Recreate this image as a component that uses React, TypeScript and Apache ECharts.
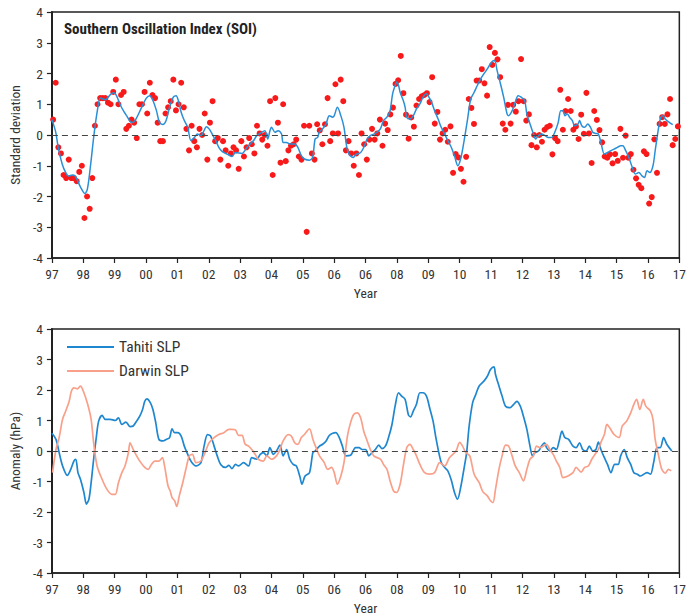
import React, { useEffect, useRef } from "react";
import * as echarts from "echarts";

const FONT = '"Liberation Sans Narrow", "Arial Narrow", "Roboto Condensed", "DejaVu Sans Condensed", "Liberation Sans", sans-serif';

const yearLabels = ["97", "98", "99", "00", "01", "02", "03", "04", "05", "06", "06", "08", "09", "10", "11", "12", "13", "14", "15", "16", "17"];
const startYear = 1997;

// Monthly SOI (standard deviations), Jan 1997 .. Dec 2016
const soiMonthly = [
  0.5, 1.7, -0.4, -0.6, -1.3, -1.4, -0.8, -1.4, -1.4, -1.5, -1.2, -1.0,
  -2.7, -2.0, -2.4, -1.4, 0.3, 1.0, 1.2, 1.2, 1.2, 1.05, 1.0, 1.4,
  1.8, 1.0, 1.3, 1.4, 0.2, 0.3, 0.5, 0.4, -0.1, 1.0, 1.0, 1.4,
  0.7, 1.7, 1.3, 1.2, 0.4, -0.2, -0.2, 0.7, 0.9, 1.1, 1.8, 0.8,
  1.0, 1.7, 0.9, 0.2, -0.5, 0.3, -0.2, -0.4, 0.2, 0.0, 0.7, -0.8,
  0.4, 1.1, -0.2, -0.1, -0.8, -0.2, -0.5, -1.0, -0.6, -0.4, -0.5, -1.1,
  -0.2, -0.7, -0.4, -0.1, -0.3, -0.6, 0.3, 0.05, -0.15, 0.0, -0.35, 1.1,
  -1.3, 1.2, 0.4, -0.9, 1.0, -0.85, -0.5, -0.35, -0.3, -0.15, -0.7, -0.8,
  0.3, -3.15, 0.3, -0.6, -0.8, 0.35, 0.15, -0.3, 0.35, 1.2, -0.2, 0.05,
  1.65, 0.05, 1.8, 1.1, -0.5, -0.2, -0.6, -1.0, -0.6, -1.3, 0.05, -0.3,
  -0.8, -0.15, 0.2, -0.15, 0.05, 0.5, -0.35, 0.37, 0.16, 0.67, 0.89, 1.66,
  1.78, 2.57, 1.36, 0.66, -0.12, 0.57, 0.27, 0.96, 1.17, 1.26, 1.3, 1.36,
  1.07, 1.88, 0.37, 0.75, -0.15, 0.05, 0.17, -0.22, 0.28, -1.23, -0.62, -0.73,
  -1.1, -1.52, -0.71, 1.17, 0.88, 0.36, 1.77, 1.77, 2.14, 1.68, 1.28, 2.86,
  2.28, 2.67, 2.46, 1.88, 0.37, 0.17, 0.98, 0.37, 0.98, 0.76, 1.1, 2.47,
  1.1, 0.47, 0.67, -0.33, 0.0, -0.4, 0.0, -0.22, 0.17, 0.26, 0.3, -0.63,
  -0.1, -0.2, 1.47, 0.17, 0.78, 1.17, 0.78, 0.17, 0.28, -0.13, 0.66, 0.04,
  1.37, 0.05, -0.91, 0.78, 0.49, 0.16, -0.24, -0.7, -0.74, -0.63, -0.92, -0.62,
  -0.84, 0.2, -0.74, -0.02, -0.74, -0.62, -1.13, -1.41, -1.62, -1.73, -0.53, -0.62,
  -2.23, -2.02, -0.14, -1.23, 0.36, 0.58, 0.36, 0.67, 1.17, -0.33, -0.13, 0.28,
];

// Smoothed SOI [year, value]
const soiSmoothed = [
  [1997.0, 0.5], [1997.12, 0.1], [1997.2, -0.4], [1997.33, -0.95], [1997.44, -1.22], [1997.54, -1.33], [1997.65, -1.3], [1997.74, -1.33], [1997.82, -1.49], [1997.92, -1.71],
  [1998.05, -1.9], [1998.13, -1.76], [1998.23, -1.0], [1998.34, 0.0], [1998.45, 0.8], [1998.55, 1.2], [1998.7, 1.15], [1998.87, 1.32], [1998.97, 1.37],
  [1999.05, 1.3], [1999.17, 1.0], [1999.3, 0.75], [1999.38, 0.63], [1999.54, 0.41], [1999.65, 0.47], [1999.86, 0.9],
  [2000.01, 1.2], [2000.12, 1.28], [2000.22, 1.12], [2000.33, 0.8], [2000.43, 0.41], [2000.54, 0.34], [2000.64, 0.47], [2000.75, 0.9], [2000.87, 1.23], [2000.96, 1.28],
  [2001.03, 1.12], [2001.12, 0.74], [2001.22, 0.47], [2001.33, 0.25], [2001.43, -0.18], [2001.54, -0.08], [2001.64, 0.03], [2001.75, -0.02], [2001.85, 0.14], [2001.92, 0.27],
  [2002.01, 0.2], [2002.11, 0.03], [2002.22, -0.18], [2002.32, -0.4], [2002.43, -0.54], [2002.64, -0.65], [2002.74, -0.7], [2002.85, -0.57],
  [2003.06, -0.6], [2003.22, -0.4], [2003.32, -0.29], [2003.43, -0.18], [2003.53, -0.02], [2003.69, 0.09], [2003.79, 0.14], [2003.88, -0.13], [2003.95, 0.14],
  [2004.0, 0.25], [2004.11, 0.09], [2004.21, 0.14], [2004.32, 0.03], [2004.37, -0.24], [2004.48, -0.24], [2004.58, -0.29], [2004.74, -0.29], [2004.84, -0.4], [2004.95, -0.67],
  [2005.05, -0.78], [2005.21, -0.82], [2005.31, -0.73], [2005.39, -0.13], [2005.47, -0.08], [2005.52, 0.09], [2005.63, 0.2], [2005.74, 0.36], [2005.84, 0.63], [2005.95, 0.58],
  [2006.0, 0.63], [2006.1, 0.9], [2006.21, 0.63], [2006.31, 0.25], [2006.4, -0.4], [2006.47, -0.62], [2006.61, -0.73], [2006.68, -0.64], [2006.84, -0.57], [2006.94, -0.4],
  [2007.05, -0.13], [2007.15, -0.02], [2007.26, 0.03], [2007.36, 0.09], [2007.47, 0.2], [2007.57, 0.47], [2007.68, 0.58], [2007.78, 0.79], [2007.86, 1.34], [2007.94, 1.61], [2007.99, 1.72],
  [2008.05, 1.61], [2008.1, 1.39], [2008.2, 1.12], [2008.26, 0.9], [2008.31, 0.58], [2008.41, 0.52], [2008.52, 0.63], [2008.62, 0.85], [2008.73, 1.01], [2008.83, 1.23], [2008.94, 1.34], [2008.99, 1.28],
  [2009.1, 1.07], [2009.2, 0.79], [2009.31, 0.52], [2009.41, 0.25], [2009.52, 0.03], [2009.62, -0.18], [2009.73, -0.4], [2009.83, -0.67], [2009.94, -1.0],
  [2010.04, -0.73], [2010.14, -0.18], [2010.25, 0.52], [2010.35, 1.17], [2010.46, 1.39], [2010.56, 1.61], [2010.67, 1.83], [2010.77, 1.99], [2010.88, 2.15], [2010.98, 2.32],
  [2011.09, 2.42], [2011.14, 2.37], [2011.19, 2.1], [2011.3, 1.66], [2011.4, 1.23], [2011.51, 0.68], [2011.56, 0.63], [2011.67, 0.79], [2011.77, 1.07], [2011.86, 1.28], [2011.96, 1.23],
  [2012.07, 1.12], [2012.14, 0.68], [2012.24, 0.36], [2012.35, 0.03], [2012.42, -0.13], [2012.51, -0.02], [2012.61, 0.03], [2012.72, -0.02], [2012.82, -0.08], [2012.93, -0.08],
  [2013.03, 0.09], [2013.14, 0.41], [2013.22, 0.79], [2013.29, 0.79], [2013.35, 0.63], [2013.43, 0.68], [2013.5, 0.58], [2013.59, 0.47], [2013.66, 0.3], [2013.77, 0.36], [2013.82, 0.47], [2013.89, 0.3], [2013.98, 0.25],
  [2014.08, 0.36], [2014.17, 0.25], [2014.24, 0.09], [2014.34, 0.05], [2014.42, 0.03], [2014.5, -0.24], [2014.61, -0.62], [2014.71, -0.57], [2014.82, -0.51], [2014.92, -0.46],
  [2015.03, -0.4], [2015.13, -0.35], [2015.2, -0.35], [2015.29, -0.51], [2015.39, -0.73], [2015.5, -1.05], [2015.6, -1.27], [2015.71, -1.22], [2015.81, -1.33], [2015.89, -1.38], [2015.97, -1.16],
  [2016.06, -1.22], [2016.16, -1.0], [2016.23, -0.51], [2016.34, 0.25], [2016.41, 0.58], [2016.48, 0.63], [2016.55, 0.52], [2016.68, 0.41], [2016.79, 0.34],
];

// Tahiti SLP anomaly (hPa) [year, value]
const tahitiSLP = [
  [1997.0, 0.58], [1997.13, 0.38], [1997.23, -0.05], [1997.34, -0.49], [1997.49, -0.8], [1997.6, -0.6], [1997.7, -0.33], [1997.76, -0.27], [1997.83, -0.71], [1997.91, -0.93],
  [1998.02, -1.36], [1998.1, -1.74], [1998.18, -1.58], [1998.25, -1.04], [1998.33, -0.27], [1998.42, 0.49], [1998.49, 0.98], [1998.6, 1.17], [1998.7, 1.04], [1998.86, 1.04],
  [1999.02, 1.0], [1999.12, 1.09], [1999.23, 0.87], [1999.36, 0.95], [1999.49, 0.8], [1999.59, 0.82], [1999.7, 0.98], [1999.8, 1.14], [1999.89, 1.36], [1999.96, 1.63],
  [2000.03, 1.71], [2000.14, 1.58], [2000.22, 1.36], [2000.31, 0.93], [2000.41, 0.38], [2000.54, 0.33], [2000.64, 0.38], [2000.75, 0.44], [2000.83, 0.73], [2000.91, 0.6],
  [2001.01, 0.6], [2001.12, 0.49], [2001.22, 0.16], [2001.33, -0.11], [2001.43, -0.33], [2001.59, -0.49], [2001.75, -0.38], [2001.85, 0.16], [2001.96, 0.54],
  [2002.06, 0.49], [2002.17, 0.16], [2002.27, -0.16], [2002.38, -0.44], [2002.53, -0.54], [2002.64, -0.47], [2002.74, -0.58], [2002.85, -0.44], [2002.95, -0.49],
  [2003.11, -0.38], [2003.27, -0.49], [2003.37, -0.22], [2003.53, -0.27], [2003.64, -0.11], [2003.74, -0.05], [2003.85, -0.16], [2003.95, 0.11],
  [2004.06, -0.11], [2004.16, 0.0], [2004.27, 0.19], [2004.37, -0.16], [2004.48, 0.05], [2004.58, -0.27], [2004.69, -0.44], [2004.79, -0.49], [2004.9, -0.82], [2004.97, -1.09],
  [2005.07, -0.82], [2005.21, -0.71], [2005.32, -0.05], [2005.39, 0.0], [2005.53, 0.16], [2005.63, 0.22], [2005.74, 0.33], [2005.84, 0.51], [2005.95, 0.58],
  [2006.05, 0.6], [2006.16, 0.44], [2006.26, 0.16], [2006.37, -0.16], [2006.52, -0.14], [2006.68, 0.11], [2006.79, 0.11], [2006.89, 0.05],
  [2007.0, 0.05], [2007.1, -0.16], [2007.21, -0.05], [2007.31, 0.05], [2007.42, 0.19], [2007.52, 0.08], [2007.63, 0.16], [2007.73, 0.44], [2007.84, 0.87], [2007.94, 1.47],
  [2008.05, 1.91], [2008.15, 1.8], [2008.26, 1.69], [2008.36, 1.2], [2008.43, 1.12], [2008.52, 1.31], [2008.62, 1.53], [2008.73, 1.91], [2008.83, 1.91], [2008.94, 1.8],
  [2009.04, 1.42], [2009.15, 0.98], [2009.25, 0.38], [2009.41, -0.38], [2009.52, -0.54], [2009.62, -0.65], [2009.73, -0.95], [2009.83, -1.35], [2009.93, -1.58],
  [2010.04, -1.14], [2010.14, -0.55], [2010.22, -0.05], [2010.3, 0.82], [2010.41, 1.58], [2010.51, 1.85], [2010.62, 2.13], [2010.77, 2.29], [2010.88, 2.45], [2010.98, 2.67],
  [2011.09, 2.76], [2011.14, 2.51], [2011.25, 2.13], [2011.35, 1.8], [2011.46, 1.47], [2011.61, 1.42], [2011.72, 1.53], [2011.82, 1.63], [2011.93, 1.47],
  [2012.03, 1.14], [2012.14, 0.71], [2012.24, 0.16], [2012.32, -0.16], [2012.4, -0.05], [2012.51, 0.0], [2012.61, 0.16], [2012.7, 0.27], [2012.77, 0.11], [2012.87, 0.0], [2012.98, 0.11],
  [2013.08, 0.05], [2013.17, 0.33], [2013.26, 0.65], [2013.35, 0.44], [2013.47, 0.38], [2013.61, 0.16], [2013.71, 0.11], [2013.82, 0.27], [2013.92, 0.05],
  [2014.03, 0.0], [2014.13, 0.16], [2014.24, 0.0], [2014.34, 0.05], [2014.42, 0.29], [2014.5, 0.05], [2014.61, -0.22], [2014.71, -0.44], [2014.82, -0.71], [2014.94, -0.44],
  [2015.05, -0.44], [2015.13, -0.16], [2015.24, 0.05], [2015.34, -0.22], [2015.45, -0.44], [2015.55, -0.71], [2015.66, -0.76], [2015.76, -0.82], [2015.87, -0.76], [2015.97, -0.71],
  [2016.08, -0.76], [2016.18, -0.38], [2016.29, 0.11], [2016.39, 0.11], [2016.5, 0.44], [2016.6, 0.22], [2016.76, 0.0],
];

// Darwin SLP anomaly (hPa) [year, value]
const darwinSLP = [
  [1997.02, -0.71], [1997.13, 0.05], [1997.23, 0.44], [1997.34, 1.04], [1997.44, 1.31], [1997.55, 1.63], [1997.62, 1.96], [1997.7, 2.07], [1997.81, 2.04], [1997.91, 2.13],
  [1998.02, 1.91], [1998.14, 1.53], [1998.25, 1.04], [1998.33, 0.27], [1998.44, -0.49], [1998.6, -0.93], [1998.75, -1.25], [1998.91, -1.42],
  [1999.02, -1.42], [1999.12, -1.04], [1999.23, -0.71], [1999.33, -0.49], [1999.44, -0.05], [1999.49, 0.27], [1999.59, 0.05], [1999.7, -0.16], [1999.8, -0.33], [1999.96, -0.54],
  [2000.07, -0.6], [2000.17, -0.44], [2000.28, -0.33], [2000.41, -0.33], [2000.52, -0.22], [2000.59, -0.49], [2000.7, -1.14], [2000.77, -1.31], [2000.83, -1.53], [2000.91, -1.63], [2000.98, -1.82],
  [2001.06, -1.47], [2001.17, -1.04], [2001.27, -0.6], [2001.38, -0.16], [2001.48, -0.11], [2001.59, -0.38], [2001.75, -0.33], [2001.9, 0.0],
  [2002.01, 0.27], [2002.17, 0.44], [2002.32, 0.54], [2002.48, 0.6], [2002.64, 0.71], [2002.74, 0.71], [2002.85, 0.69], [2002.95, 0.51],
  [2003.06, 0.51], [2003.16, 0.22], [2003.27, 0.16], [2003.37, 0.05], [2003.48, -0.11], [2003.58, -0.27], [2003.74, -0.33], [2003.85, -0.16],
  [2004.0, -0.27], [2004.16, -0.16], [2004.27, 0.05], [2004.37, 0.33], [2004.53, 0.54], [2004.63, 0.49], [2004.74, 0.27], [2004.84, 0.22], [2004.95, 0.44],
  [2005.05, 0.54], [2005.21, 0.73], [2005.32, 0.38], [2005.42, 0.11], [2005.53, -0.16], [2005.68, -0.38], [2005.79, -0.6], [2005.91, -0.54],
  [2006.0, -0.71], [2006.1, -1.09], [2006.21, -0.82], [2006.31, -0.38], [2006.42, 0.49], [2006.52, 0.93], [2006.62, 1.2], [2006.73, 1.25], [2006.84, 1.09], [2006.94, 0.65],
  [2007.05, 0.33], [2007.15, 0.05], [2007.26, -0.16], [2007.47, -0.27], [2007.57, -0.44], [2007.68, -0.6], [2007.78, -0.98], [2007.89, -1.31], [2007.99, -1.36],
  [2008.1, -1.09], [2008.2, -0.49], [2008.31, 0.11], [2008.41, 0.22], [2008.52, 0.05], [2008.62, -0.16], [2008.73, -0.44], [2008.88, -0.71],
  [2009.04, -0.76], [2009.2, -0.71], [2009.36, -0.38], [2009.52, -0.49], [2009.67, -0.22], [2009.88, 0.0],
  [2010.0, 0.28], [2010.09, 0.16], [2010.2, -0.06], [2010.32, -0.16], [2010.46, -0.76], [2010.62, -1.04], [2010.74, -1.34], [2010.88, -1.47], [2010.98, -1.63],
  [2011.06, -1.69], [2011.14, -1.25], [2011.25, -0.6], [2011.35, -0.16], [2011.46, 0.19], [2011.56, 0.16], [2011.67, -0.16], [2011.77, -0.49], [2011.9, -0.71],
  [2012.03, -0.98], [2012.14, -0.6], [2012.24, -0.27], [2012.35, -0.16], [2012.45, 0.16], [2012.56, 0.11], [2012.66, 0.16], [2012.77, 0.22], [2012.87, 0.05], [2012.98, -0.11],
  [2013.08, -0.33], [2013.19, -0.54], [2013.29, -0.87], [2013.45, -0.82], [2013.61, -0.71], [2013.71, -0.54], [2013.87, -0.69], [2013.98, -0.54],
  [2014.1, -0.49], [2014.21, -0.27], [2014.31, -0.11], [2014.42, 0.05], [2014.52, 0.33], [2014.61, 0.54], [2014.69, 0.87], [2014.78, 0.76], [2014.92, 0.54],
  [2015.08, 0.44], [2015.18, 0.82], [2015.32, 0.98], [2015.45, 1.25], [2015.55, 1.53], [2015.64, 1.69], [2015.74, 1.36], [2015.85, 1.69], [2015.93, 1.47],
  [2016.08, 1.31], [2016.16, 1.04], [2016.23, 0.38], [2016.34, -0.16], [2016.44, -0.6], [2016.55, -0.73], [2016.65, -0.6], [2016.74, -0.65],
];

const soiPoints = soiMonthly.map((v, i) => [startYear + (i + 0.45) / 12, v]);

export default function App() {
  const ref = useRef<HTMLDivElement>(null);

  useEffect(() => {
    if (!ref.current) return;
    const chart = echarts.init(ref.current, null, { renderer: "svg" });

    const txt = "#333";
    const xAxisBase = (gridIndex: number) => ({
      type: "value",
      gridIndex,
      min: 1997,
      max: 2017,
      interval: 1,
      axisLine: { show: true, onZero: false, lineStyle: { color: "#222", width: 1.5 } },
      axisTick: { show: true, inside: false, length: 5, lineStyle: { color: "#222", width: 1.2 } },
      axisLabel: {
        formatter: (v: number) => yearLabels[Math.round(v - startYear)] ?? "",
        color: txt,
        fontSize: 13.5,
        fontFamily: FONT,
        margin: 9,
        showMinLabel: true,
        showMaxLabel: true,
      },
      splitLine: { show: false },
      name: "Year",
      nameLocation: "middle",
      nameGap: 28,
      nameTextStyle: { color: txt, fontSize: 13.5, fontFamily: FONT },
    });
    const yAxisBase = (gridIndex: number, name: string) => ({
      type: "value",
      gridIndex,
      min: -4,
      max: 4,
      interval: 1,
      axisLine: { show: true, onZero: false, lineStyle: { color: "#222", width: 2 } },
      axisTick: { show: true, inside: false, length: 5, lineStyle: { color: "#222", width: 1.2 } },
      axisLabel: { color: txt, fontSize: 13.5, fontFamily: FONT, margin: 9 },
      splitLine: { show: false },
      name,
      nameLocation: "middle",
      nameGap: 26,
      nameTextStyle: { color: txt, fontSize: 13.5, fontFamily: FONT },
    });

    const zeroLine = {
      silent: true,
      symbol: ["none", "none"],
      label: { show: false },
      lineStyle: { type: [6, 4], color: "#444", width: 1.2 },
      data: [{ yAxis: 0 }],
    };

    chart.setOption({
      animation: false,
      backgroundColor: "#fff",
      title: {
        text: "Southern Oscillation Index (SOI)",
        left: 59,
        top: 16,
        textStyle: { fontSize: 15, fontWeight: "bold", color: "#222", fontFamily: FONT },
      },
      legend: {
        data: ["Tahiti SLP", "Darwin SLP"],
        orient: "vertical",
        left: 62,
        top: 334,
        icon: "rect",
        itemWidth: 47,
        itemHeight: 2,
        itemGap: 8,
        textStyle: { color: txt, fontSize: 15.5, fontFamily: FONT },
      },
      grid: [
        { left: 51, top: 12, width: 635, height: 246, show: true, borderColor: "#222", borderWidth: 1.5, backgroundColor: "transparent" },
        { left: 51, top: 329, width: 635, height: 245, show: true, borderColor: "#222", borderWidth: 1.5, backgroundColor: "transparent" },
      ],
      xAxis: [xAxisBase(0), xAxisBase(1)],
      yAxis: [yAxisBase(0, "Standard deviation"), yAxisBase(1, "Anomaly (hPa)")],
      series: [
        {
          name: "SOI monthly",
          type: "scatter",
          xAxisIndex: 0,
          yAxisIndex: 0,
          data: soiPoints,
          symbol: "circle",
          symbolSize: 6,
          itemStyle: { color: "#f81a1a", opacity: 1 },
          markLine: zeroLine,
          z: 3,
        },
        {
          name: "SOI smoothed",
          type: "line",
          xAxisIndex: 0,
          yAxisIndex: 0,
          data: soiSmoothed,
          showSymbol: false,
          smooth: 0.3,
          lineStyle: { color: "#2a8fd6", width: 1.5 },
          z: 4,
        },
        {
          name: "Tahiti SLP",
          type: "line",
          xAxisIndex: 1,
          yAxisIndex: 1,
          data: tahitiSLP,
          showSymbol: false,
          smooth: 0.3,
          itemStyle: { color: "#1f87cf" },
          lineStyle: { color: "#1f87cf", width: 1.7 },
          markLine: zeroLine,
        },
        {
          name: "Darwin SLP",
          type: "line",
          xAxisIndex: 1,
          yAxisIndex: 1,
          data: darwinSLP,
          showSymbol: false,
          smooth: 0.3,
          itemStyle: { color: "#f9a08a" },
          lineStyle: { color: "#f9a08a", width: 1.7 },
        },
      ],
    });

    return () => chart.dispose();
  }, []);

  return (
    <div
      ref={ref}
      style={{ position: "absolute", left: 0, top: 0, width: 689, height: 616, background: "#fff" }}
    />
  );
}
